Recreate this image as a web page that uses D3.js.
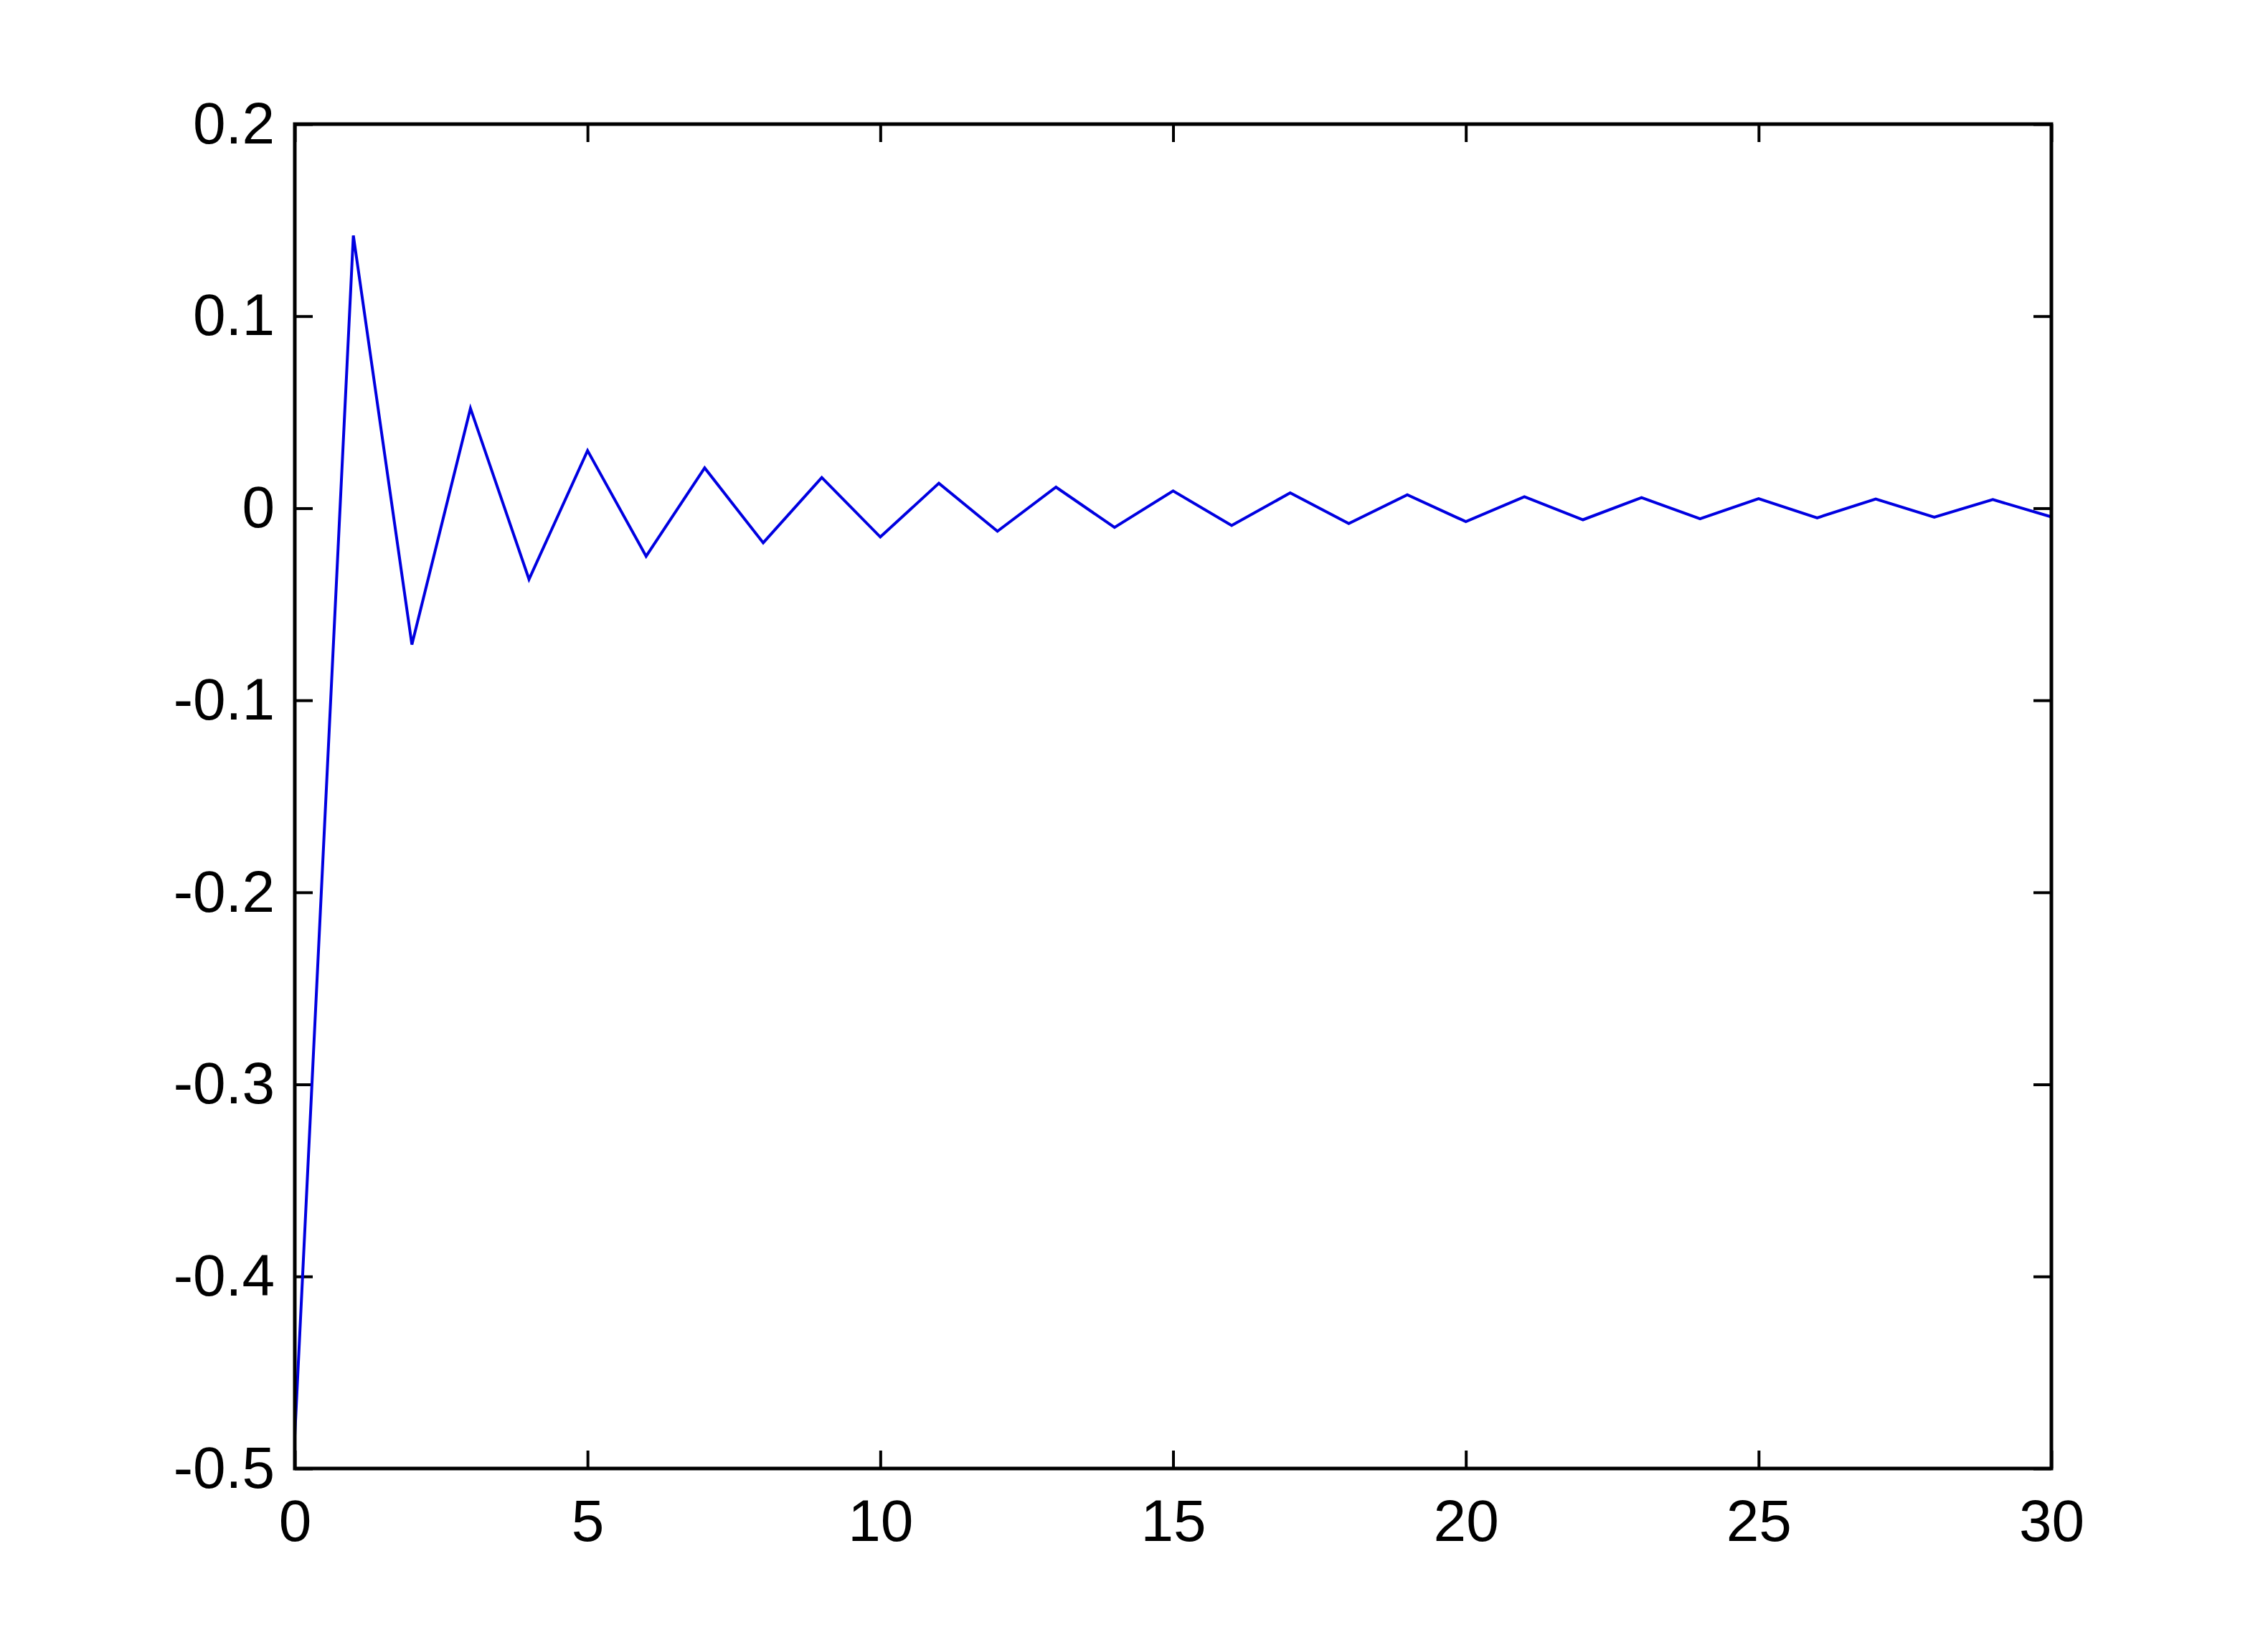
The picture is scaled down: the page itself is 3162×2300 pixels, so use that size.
<!DOCTYPE html>
<meta charset="utf-8">
<style>
body { margin: 0; background: #fff; }
.tick text { font-family: "Liberation Sans", Arial, sans-serif; font-size: 82px; fill: #000; }
</style>
<body>
<script src="https://cdn.jsdelivr.net/npm/d3@7"></script>
<script>

// samples n = 0..30
var xs = d3.range(0, 31);
var ys = [-0.483, 0.142, -0.071, 0.052, -0.037, 0.030, -0.025, 0.021, -0.018, 0.016,
          -0.015, 0.013, -0.012, 0.011, -0.010, 0.009, -0.009, 0.008, -0.008, 0.007,
          -0.007, 0.006, -0.006, 0.0055, -0.0055, 0.005, -0.005, 0.0048, -0.0047, 0.0045,
          -0.0045];
var xTicks = [0, 5, 10, 15, 20, 25, 30];
var yTicks = [-0.5, -0.4, -0.3, -0.2, -0.1, 0, 0.1, 0.2];

var W = 3162, H = 2300;
var margin = {top: 173, right: 302, bottom: 253, left: 411},
    width = W - margin.left - margin.right,
    height = H - margin.top - margin.bottom;

var x = d3.scaleLinear().domain([0, 30]).range([0, width]);
var y = d3.scaleLinear().domain([-0.5, 0.2]).range([height, 0]);

var svg = d3.select("body").append("svg")
    .attr("width", W)
    .attr("height", H)
  .append("g")
    .attr("transform", "translate(" + margin.left + "," + margin.top + ")");

var tl = 25;
// matlab style labels: plain hyphen, no trailing zeros
var fmt = function(d) { return String(+d.toFixed(1)); };

// ticks point inward on all four sides
var bottom = svg.append("g")
    .attr("transform", "translate(0," + height + ")")
    .call(d3.axisBottom(x).tickValues(xTicks).tickSizeInner(-tl).tickSizeOuter(0).tickPadding(43));
var top = svg.append("g")
    .call(d3.axisTop(x).tickValues(xTicks).tickSizeInner(-tl).tickSizeOuter(0).tickFormat(""));
var left = svg.append("g")
    .call(d3.axisLeft(y).tickValues(yTicks).tickSizeInner(-tl).tickSizeOuter(0).tickPadding(28).tickFormat(fmt));
var right = svg.append("g")
    .attr("transform", "translate(" + width + ",0)")
    .call(d3.axisRight(y).tickValues(yTicks).tickSizeInner(-tl).tickSizeOuter(0).tickFormat(""));

svg.selectAll(".domain").remove();
svg.selectAll(".tick line").attr("stroke", "#000").attr("stroke-width", 4);
bottom.selectAll(".tick text").attr("dy", "0.71em");

// the data line
var line = d3.line()
    .x(function(d, i) { return x(xs[i]); })
    .y(function(d) { return y(d); });

svg.append("path")
    .datum(ys)
    .attr("fill", "none")
    .attr("stroke", "#0000e0")
    .attr("stroke-width", 4)
    .attr("stroke-linejoin", "miter")
    .attr("d", line);

// box
svg.append("rect")
    .attr("width", width)
    .attr("height", height)
    .attr("fill", "none")
    .attr("stroke", "#000")
    .attr("stroke-width", 5);

</script>
</body>
